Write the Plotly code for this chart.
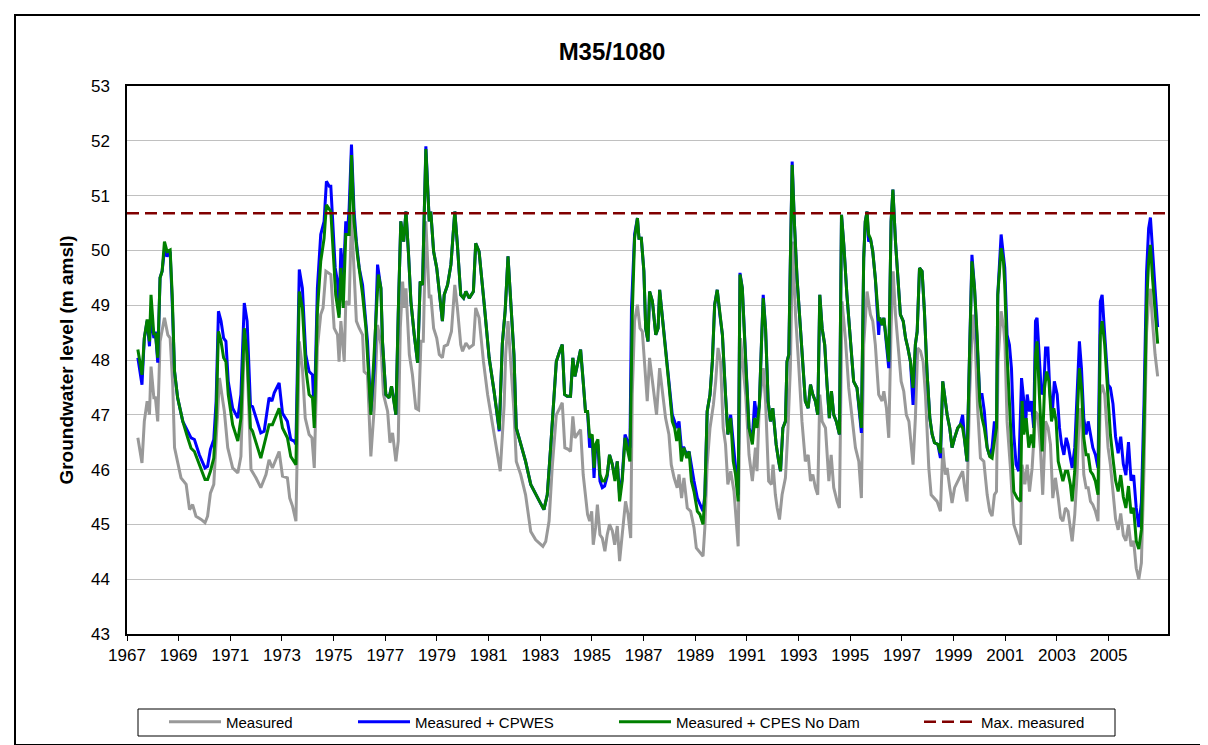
import plotly.graph_objects as go

# ---------------- data ----------------
measured_year = [
 1967.42,1967.58,1967.67,1967.78,1967.87,1967.93,1968.04,1968.10,1968.19,1968.28,1968.45,1968.58,1968.67,1968.77,1968.84,1968.96,
 1969.09,1969.29,1969.42,1969.54,1969.67,1969.87,1970.02,1970.12,1970.23,1970.36,1970.45,1970.58,1970.71,1970.77,1970.90,1971.09,
 1971.29,1971.41,1971.54,1971.65,1971.80,1971.99,1972.18,1972.38,1972.50,1972.63,1972.89,1973.02,1973.21,1973.30,1973.41,1973.54,
 1973.67,1973.79,1973.90,1974.05,1974.16,1974.25,1974.37,1974.50,1974.59,1974.70,1974.89,1975.02,1975.15,1975.21,1975.28,1975.41,
 1975.47,1975.60,1975.69,1975.79,1975.88,1975.99,1976.12,1976.18,1976.31,1976.44,1976.57,1976.70,1976.83,1976.93,1977.09,1977.18,
 1977.28,1977.41,1977.50,1977.58,1977.67,1977.73,1977.80,1977.93,1978.05,1978.18,1978.29,1978.38,1978.47,1978.57,1978.70,1978.76,
 1978.87,1978.99,1979.09,1979.21,1979.28,1979.41,1979.56,1979.69,1979.79,1979.92,1979.99,1980.12,1980.25,1980.41,1980.50,1980.63,
 1980.80,1980.96,1981.15,1981.28,1981.45,1981.60,1981.66,1981.75,1981.85,1981.98,1982.07,1982.24,1982.43,1982.63,1982.82,1982.97,
 1983.10,1983.21,1983.34,1983.46,1983.62,1983.75,1983.85,1983.95,1984.08,1984.17,1984.26,1984.34,1984.43,1984.56,1984.66,1984.75,
 1984.83,1984.91,1984.99,1985.05,1985.14,1985.21,1985.31,1985.40,1985.50,1985.59,1985.68,1985.79,1985.88,1985.98,1986.07,1986.17,
 1986.30,1986.40,1986.50,1986.56,1986.65,1986.76,1986.86,1986.95,1987.04,1987.14,1987.23,1987.34,1987.50,1987.62,1987.72,1987.85,
 1987.98,1988.07,1988.18,1988.30,1988.37,1988.47,1988.56,1988.69,1988.82,1988.95,1989.04,1989.14,1989.30,1989.37,1989.46,1989.57,
 1989.70,1989.79,1989.88,1989.98,1990.08,1990.17,1990.26,1990.37,1990.50,1990.66,1990.75,1990.95,1991.08,1991.21,1991.33,1991.39,
 1991.48,1991.63,1991.72,1991.84,1991.95,1992.01,1992.10,1992.17,1992.26,1992.36,1992.49,1992.59,1992.68,1992.77,1992.88,1993.01,
 1993.13,1993.26,1993.37,1993.46,1993.55,1993.65,1993.74,1993.82,1993.91,1994.04,1994.17,1994.26,1994.36,1994.49,1994.58,1994.68,
 1994.81,1994.94,1995.07,1995.20,1995.33,1995.43,1995.52,1995.65,1995.78,1995.87,1995.97,1996.10,1996.23,1996.30,1996.40,1996.49,
 1996.58,1996.66,1996.75,1996.84,1996.97,1997.07,1997.17,1997.27,1997.36,1997.43,1997.52,1997.61,1997.72,1997.82,1997.91,1998.04,
 1998.13,1998.23,1998.36,1998.49,1998.58,1998.68,1998.75,1998.85,1998.94,1999.04,1999.16,1999.26,1999.35,1999.43,1999.52,1999.62,
 1999.74,1999.84,1999.93,2000.04,2000.17,2000.30,2000.40,2000.49,2000.58,2000.66,2000.72,2000.84,2000.94,2000.99,2001.07,2001.20,
 2001.33,2001.46,2001.59,2001.65,2001.76,2001.85,2001.94,2002.04,2002.17,2002.26,2002.36,2002.45,2002.56,2002.66,2002.75,2002.84,
 2002.94,2003.05,2003.14,2003.23,2003.33,2003.43,2003.52,2003.59,2003.69,2003.78,2003.87,2003.95,2004.04,2004.13,2004.21,2004.30,
 2004.39,2004.49,2004.59,2004.68,2004.75,2004.85,2004.98,2005.07,2005.17,2005.27,2005.37,2005.47,2005.57,2005.67,2005.77,2005.87,
 2005.97,2006.07,2006.17,2006.27,2006.37,2006.47,2006.55,2006.62,2006.70,2006.80,2006.90]
measured_level = [
 46.58,46.12,46.88,47.25,47.00,47.88,47.31,47.31,46.88,48.34,48.77,48.46,48.40,47.55,46.40,46.15,
 45.85,45.73,45.27,45.36,45.15,45.09,45.03,45.15,45.57,45.73,46.64,47.67,47.25,47.06,46.40,46.03,
 45.94,46.24,48.34,47.97,46.00,45.85,45.67,45.91,46.18,46.03,46.33,45.88,45.85,45.48,45.33,45.06,
 48.34,47.85,46.94,46.64,46.58,46.03,48.22,48.83,48.95,49.62,49.56,48.58,48.46,47.97,48.71,47.97,
 49.07,49.01,50.65,49.56,48.71,48.58,48.46,47.79,47.73,46.24,47.12,48.64,48.28,47.37,47.06,46.49,
 46.67,46.15,46.52,48.58,49.43,48.95,49.31,48.10,47.73,47.12,47.09,48.34,48.34,50.53,49.13,49.19,
 48.58,48.40,48.10,48.04,48.25,48.28,48.52,49.37,48.95,48.28,48.16,48.31,48.22,48.28,48.95,48.77,
 47.97,47.37,46.82,46.40,45.97,47.18,48.10,48.71,47.97,47.06,46.15,45.91,45.54,44.87,44.72,44.66,
 44.60,44.69,45.06,46.03,47.00,47.12,47.22,46.40,46.37,46.33,46.97,46.58,46.64,46.73,45.91,45.54,
 45.18,45.06,45.24,44.63,44.94,45.36,44.81,44.75,44.51,44.81,45.00,44.88,44.63,44.97,44.33,44.81,
 45.42,45.18,44.75,47.37,48.71,49.01,48.58,48.52,47.97,47.25,48.04,47.61,47.00,47.85,47.49,46.94,
 46.64,46.09,45.85,45.67,45.91,45.48,45.85,45.30,45.24,44.94,44.57,44.51,44.42,44.94,46.09,46.76,
 47.18,47.61,48.22,47.97,46.76,46.46,45.73,45.97,45.60,44.60,48.40,47.37,46.27,45.79,46.40,45.97,
 47.18,47.85,47.25,45.79,45.73,46.09,45.54,45.30,45.09,45.54,45.85,46.76,47.85,50.16,48.83,47.85,
 46.88,46.15,46.27,45.79,45.91,45.67,45.54,47.37,46.88,46.76,45.79,46.27,45.67,45.42,45.30,49.07,
 48.40,47.49,46.88,46.40,46.15,45.48,48.28,49.25,48.83,48.71,48.28,47.37,47.25,47.43,47.12,46.58,
 48.58,49.62,48.83,48.28,47.61,47.43,47.00,46.88,46.46,46.09,46.94,48.22,48.16,47.97,47.37,46.03,
 45.54,45.48,45.42,45.24,46.40,45.91,46.03,45.67,45.39,45.67,45.79,45.91,45.97,45.67,45.42,47.37,
 48.83,48.28,47.12,46.21,46.15,45.54,45.24,45.15,45.54,45.60,47.97,48.89,48.58,48.28,46.88,46.03,
 45.00,44.81,44.63,46.09,45.73,46.09,45.60,46.03,47.06,47.00,46.40,45.54,46.88,46.76,46.46,45.48,
 45.85,45.48,45.12,45.06,45.30,45.24,44.94,44.69,45.18,45.91,47.12,46.94,45.91,45.67,45.67,45.42,
 45.36,45.24,45.06,47.37,47.55,47.37,46.40,46.09,45.60,45.10,44.90,45.20,44.80,44.70,45.00,44.60,
 44.70,44.20,44.00,44.30,46.00,48.50,49.10,49.30,48.70,48.10,47.70]

cpwes_year = [
 1967.42,1967.58,1967.67,1967.78,1967.87,1967.93,1968.04,1968.10,1968.19,1968.28,1968.36,1968.45,1968.55,1968.67,1968.75,1968.84,
 1968.96,1969.16,1969.35,1969.48,1969.61,1969.80,1970.02,1970.12,1970.23,1970.36,1970.45,1970.54,1970.64,1970.74,1970.83,1970.92,
 1971.09,1971.29,1971.41,1971.54,1971.65,1971.78,1971.86,1971.99,1972.18,1972.31,1972.50,1972.61,1972.70,1972.89,1973.02,1973.21,
 1973.34,1973.47,1973.54,1973.67,1973.79,1973.92,1974.05,1974.18,1974.25,1974.37,1974.50,1974.63,1974.72,1974.83,1974.89,1974.95,
 1975.06,1975.15,1975.21,1975.28,1975.37,1975.47,1975.53,1975.60,1975.69,1975.79,1975.88,1975.99,1976.12,1976.22,1976.31,1976.44,
 1976.57,1976.70,1976.83,1976.89,1977.02,1977.15,1977.24,1977.32,1977.41,1977.50,1977.60,1977.71,1977.80,1977.90,1977.99,1978.12,
 1978.25,1978.35,1978.44,1978.57,1978.70,1978.76,1978.87,1978.99,1979.09,1979.21,1979.28,1979.41,1979.54,1979.69,1979.79,1979.92,
 1980.03,1980.12,1980.25,1980.41,1980.50,1980.63,1980.83,1981.02,1981.21,1981.41,1981.53,1981.64,1981.75,1981.85,1981.98,1982.07,
 1982.24,1982.43,1982.63,1982.82,1982.97,1983.14,1983.27,1983.40,1983.53,1983.62,1983.75,1983.85,1983.94,1984.04,1984.17,1984.26,
 1984.34,1984.43,1984.56,1984.66,1984.75,1984.83,1984.91,1985.01,1985.08,1985.14,1985.23,1985.31,1985.40,1985.49,1985.59,1985.68,
 1985.79,1985.89,1985.98,1986.07,1986.17,1986.28,1986.37,1986.47,1986.53,1986.65,1986.76,1986.82,1986.91,1987.01,1987.08,1987.17,
 1987.23,1987.34,1987.47,1987.56,1987.62,1987.72,1987.85,1987.98,1988.11,1988.20,1988.28,1988.37,1988.46,1988.56,1988.67,1988.76,
 1988.85,1988.95,1989.08,1989.18,1989.30,1989.37,1989.46,1989.57,1989.66,1989.75,1989.85,1989.95,1990.05,1990.17,1990.26,1990.37,
 1990.47,1990.56,1990.66,1990.73,1990.82,1990.95,1991.08,1991.21,1991.30,1991.39,1991.48,1991.56,1991.63,1991.72,1991.82,1991.91,
 1992.00,1992.06,1992.13,1992.23,1992.30,1992.39,1992.49,1992.55,1992.62,1992.68,1992.75,1992.84,1992.94,1993.07,1993.16,1993.26,
 1993.37,1993.46,1993.55,1993.65,1993.74,1993.82,1993.91,1994.01,1994.10,1994.19,1994.27,1994.36,1994.46,1994.58,1994.66,1994.75,
 1994.87,1995.00,1995.13,1995.26,1995.35,1995.43,1995.52,1995.58,1995.65,1995.71,1995.78,1995.87,1995.97,1996.10,1996.14,1996.23,
 1996.30,1996.40,1996.49,1996.58,1996.65,1996.75,1996.84,1996.94,1997.05,1997.14,1997.23,1997.33,1997.43,1997.52,1997.59,1997.68,
 1997.78,1997.87,1997.97,1998.08,1998.17,1998.26,1998.39,1998.49,1998.58,1998.68,1998.75,1998.85,1998.94,1999.04,1999.16,1999.26,
 1999.35,1999.43,1999.52,1999.61,1999.71,1999.81,1999.91,2000.01,2000.10,2000.19,2000.30,2000.40,2000.49,2000.58,2000.66,2000.71,
 2000.84,2000.93,2000.98,2001.07,2001.16,2001.24,2001.33,2001.42,2001.52,2001.63,2001.72,2001.78,2001.85,2001.94,2002.01,2002.10,
 2002.17,2002.23,2002.32,2002.40,2002.49,2002.56,2002.65,2002.72,2002.81,2002.90,2003.01,2003.10,2003.18,2003.27,2003.36,2003.43,
 2003.52,2003.59,2003.69,2003.78,2003.87,2003.95,2004.04,2004.13,2004.21,2004.30,2004.39,2004.49,2004.59,2004.68,2004.75,2004.85,
 2004.98,2005.07,2005.17,2005.27,2005.37,2005.47,2005.57,2005.67,2005.77,2005.87,2005.97,2006.07,2006.17,2006.27,2006.37,2006.47,
 2006.55,2006.62,2006.70,2006.80,2006.90]
cpwes_level = [
 48.04,47.55,48.40,48.71,48.25,48.83,48.40,48.52,47.95,49.50,49.62,50.01,49.89,49.98,49.07,47.79,
 47.31,46.88,46.70,46.58,46.55,46.27,46.03,46.06,46.37,46.55,47.25,48.89,48.71,48.40,48.34,47.61,
 47.12,46.94,47.37,49.04,48.71,47.18,47.15,46.94,46.67,46.70,47.31,47.25,47.40,47.58,47.03,46.88,
 46.55,46.52,46.46,49.65,49.31,48.10,47.79,47.73,47.00,49.31,50.29,50.53,51.26,51.17,51.17,50.65,
 49.68,49.43,48.83,50.04,49.43,50.53,50.29,50.77,51.93,50.71,50.16,49.68,49.37,48.83,48.34,47.06,
 47.85,49.74,49.31,48.34,47.37,47.31,47.52,47.31,47.00,48.83,50.53,50.16,50.71,49.92,49.07,48.46,
 47.95,49.43,49.37,51.90,50.53,50.71,49.98,49.68,49.19,48.71,49.19,49.37,49.74,50.71,50.10,49.19,
 49.13,49.25,49.13,49.25,50.13,49.98,49.01,48.04,47.43,46.70,48.30,48.90,49.89,49.01,48.10,46.76,
 46.46,46.15,45.73,45.57,45.42,45.27,45.54,46.40,47.25,47.97,48.16,48.28,47.37,47.34,47.34,48.04,
 47.70,47.91,48.19,47.61,47.06,47.06,46.40,46.58,45.85,46.40,46.46,45.79,45.67,45.70,45.88,46.27,
 46.09,45.85,46.15,45.54,45.85,46.64,46.52,46.40,48.95,50.29,50.59,50.22,50.22,49.62,48.58,48.34,
 49.25,49.07,48.46,48.58,49.28,48.83,48.22,47.55,47.00,46.88,46.76,46.88,46.40,46.40,46.27,46.33,
 46.03,45.79,45.48,45.36,45.24,45.54,47.06,47.37,47.97,49.01,49.28,48.83,48.46,47.37,46.64,47.00,
 46.40,46.03,45.54,49.59,49.31,47.97,46.76,46.58,47.25,46.94,47.18,48.28,49.19,48.58,47.25,46.88,
 47.12,46.82,46.46,46.15,45.97,46.76,46.88,47.97,48.10,49.80,51.62,50.47,49.49,48.58,47.97,47.25,
 47.12,47.55,47.37,47.25,47.00,49.19,48.58,48.28,47.55,46.94,47.43,47.00,46.88,46.64,50.65,50.10,
 49.19,48.46,47.61,47.49,47.06,46.67,49.86,50.53,50.71,50.16,50.22,49.98,49.49,48.46,48.77,48.64,
 48.77,48.34,47.85,50.53,51.11,50.16,49.49,48.83,48.71,48.40,48.22,47.97,47.18,48.28,48.52,49.68,
 49.62,48.89,47.79,46.94,46.64,46.49,46.46,46.21,47.61,47.18,47.00,46.76,46.40,46.58,46.76,46.82,
 47.00,46.52,46.15,47.97,49.92,49.31,48.46,47.37,47.37,47.06,46.40,46.24,46.40,46.88,46.76,49.19,
 50.29,49.90,49.68,48.46,48.28,47.85,46.64,46.09,45.97,47.67,47.25,46.76,47.37,47.06,47.25,46.76,
 48.71,48.77,47.97,47.37,47.49,48.22,48.22,47.49,46.94,47.61,47.37,46.76,46.46,46.27,46.58,46.46,
 46.21,46.03,46.40,47.25,48.34,47.85,46.94,46.64,46.88,46.64,46.40,46.27,46.03,49.07,49.19,48.46,
 47.55,47.49,47.20,46.60,46.30,46.60,46.10,45.90,46.50,45.80,45.90,45.30,44.95,45.40,47.20,49.60,
 50.40,50.60,50.10,49.30,48.60]

cpes_year = [
 1967.42,1967.58,1967.67,1967.78,1967.87,1967.93,1968.04,1968.10,1968.19,1968.28,1968.36,1968.45,1968.55,1968.67,1968.75,1968.84,
 1968.96,1969.16,1969.35,1969.48,1969.61,1969.80,1970.02,1970.12,1970.23,1970.36,1970.45,1970.54,1970.64,1970.74,1970.83,1970.92,
 1971.09,1971.29,1971.41,1971.54,1971.65,1971.78,1971.86,1972.18,1972.50,1972.63,1972.89,1973.02,1973.21,1973.34,1973.54,1973.67,
 1973.79,1973.92,1974.05,1974.18,1974.25,1974.37,1974.50,1974.63,1974.72,1974.89,1974.95,1975.08,1975.21,1975.28,1975.37,1975.47,
 1975.60,1975.69,1975.79,1975.92,1976.12,1976.25,1976.44,1976.57,1976.73,1976.83,1976.89,1977.02,1977.15,1977.24,1977.32,1977.41,
 1977.50,1977.60,1977.71,1977.80,1977.90,1977.99,1978.12,1978.25,1978.35,1978.44,1978.57,1978.70,1978.76,1978.87,1978.99,1979.09,
 1979.21,1979.28,1979.41,1979.54,1979.69,1979.79,1979.92,1980.03,1980.12,1980.25,1980.41,1980.50,1980.63,1980.83,1981.02,1981.21,
 1981.41,1981.53,1981.64,1981.75,1981.85,1981.98,1982.07,1982.24,1982.43,1982.63,1982.82,1982.97,1983.14,1983.27,1983.40,1983.53,
 1983.62,1983.75,1983.85,1983.94,1984.04,1984.17,1984.26,1984.34,1984.43,1984.56,1984.66,1984.75,1984.83,1984.91,1985.01,1985.08,
 1985.14,1985.23,1985.31,1985.40,1985.49,1985.59,1985.68,1985.79,1985.89,1985.98,1986.07,1986.17,1986.28,1986.37,1986.47,1986.56,
 1986.65,1986.76,1986.82,1986.91,1987.01,1987.08,1987.17,1987.23,1987.34,1987.47,1987.56,1987.62,1987.72,1987.85,1987.98,1988.11,
 1988.20,1988.28,1988.37,1988.46,1988.56,1988.67,1988.76,1988.85,1988.95,1989.08,1989.18,1989.30,1989.37,1989.46,1989.57,1989.66,
 1989.75,1989.85,1989.95,1990.05,1990.17,1990.26,1990.37,1990.47,1990.56,1990.66,1990.73,1990.82,1990.95,1991.08,1991.21,1991.30,
 1991.39,1991.48,1991.56,1991.63,1991.72,1991.82,1991.91,1992.00,1992.06,1992.13,1992.23,1992.30,1992.39,1992.49,1992.55,1992.62,
 1992.68,1992.75,1992.84,1992.94,1993.07,1993.16,1993.26,1993.37,1993.46,1993.55,1993.65,1993.74,1993.82,1993.91,1994.01,1994.10,
 1994.19,1994.27,1994.36,1994.46,1994.58,1994.66,1994.75,1994.87,1995.00,1995.13,1995.26,1995.35,1995.43,1995.52,1995.58,1995.65,
 1995.71,1995.78,1995.87,1995.97,1996.10,1996.14,1996.23,1996.30,1996.40,1996.49,1996.58,1996.65,1996.75,1996.84,1996.94,1997.05,
 1997.14,1997.23,1997.33,1997.43,1997.52,1997.59,1997.68,1997.78,1997.87,1997.97,1998.08,1998.17,1998.26,1998.39,1998.49,1998.58,
 1998.68,1998.75,1998.85,1998.94,1999.04,1999.16,1999.26,1999.35,1999.43,1999.52,1999.61,1999.71,1999.81,1999.91,2000.01,2000.10,
 2000.19,2000.30,2000.40,2000.49,2000.58,2000.66,2000.71,2000.84,2000.93,2000.98,2001.07,2001.20,2001.33,2001.46,2001.59,2001.65,
 2001.72,2001.81,2001.91,2002.01,2002.10,2002.17,2002.23,2002.32,2002.43,2002.52,2002.60,2002.69,2002.79,2002.88,2002.97,2003.05,
 2003.14,2003.23,2003.33,2003.42,2003.52,2003.59,2003.69,2003.78,2003.87,2003.95,2004.04,2004.13,2004.21,2004.30,2004.39,2004.49,
 2004.59,2004.68,2004.75,2004.85,2004.98,2005.07,2005.17,2005.27,2005.37,2005.47,2005.57,2005.67,2005.77,2005.87,2005.97,2006.07,
 2006.17,2006.27,2006.37,2006.47,2006.55,2006.62,2006.70,2006.80,2006.90]
cpes_level = [
 48.19,47.73,48.40,48.74,48.34,49.19,48.46,48.49,48.04,49.50,49.62,50.16,49.98,50.01,49.19,47.79,
 47.31,46.88,46.58,46.39,46.33,46.09,45.82,45.82,45.97,46.21,46.94,48.52,48.34,48.04,47.97,47.37,
 46.82,46.52,46.94,48.58,48.10,46.76,46.70,46.21,46.82,46.82,47.12,46.76,46.58,46.24,46.09,49.25,
 48.95,47.85,47.37,47.31,46.76,48.89,49.80,50.22,50.83,50.71,50.29,49.19,48.77,49.68,48.95,50.29,
 50.29,51.74,50.53,49.92,49.19,48.58,47.00,48.10,49.56,49.31,48.34,47.37,47.31,47.52,47.31,47.00,
 48.83,50.53,50.16,50.71,49.92,49.07,48.46,47.95,49.43,49.37,51.85,50.53,50.71,49.98,49.68,49.19,
 48.71,49.19,49.37,49.74,50.71,50.10,49.19,49.13,49.25,49.13,49.25,50.13,49.98,49.01,48.04,47.43,
 46.73,48.30,48.90,49.89,49.01,48.10,46.76,46.46,46.15,45.73,45.57,45.42,45.27,45.54,46.40,47.25,
 47.97,48.16,48.28,47.37,47.34,47.34,48.04,47.70,47.91,48.19,47.61,47.06,47.06,46.58,46.64,46.03,
 46.46,46.55,45.91,45.79,45.79,45.91,46.27,46.09,45.79,46.15,45.42,45.79,46.58,46.40,46.15,48.83,
 50.22,50.59,50.22,50.22,49.62,48.58,48.34,49.25,49.07,48.46,48.58,49.28,48.83,48.22,47.55,46.88,
 46.76,46.52,46.76,46.15,46.40,46.21,46.33,45.79,45.60,45.24,45.18,45.00,45.54,47.06,47.37,47.97,
 49.01,49.28,48.83,48.46,47.37,46.64,46.94,46.15,45.91,45.42,49.56,49.31,47.97,46.76,46.46,46.94,
 46.76,47.18,48.28,49.13,48.58,47.25,46.88,47.12,46.82,46.46,46.15,45.97,46.76,46.88,47.97,48.10,
 49.80,51.56,50.47,49.49,48.58,47.97,47.25,47.12,47.55,47.37,47.25,47.00,49.19,48.58,48.28,47.55,
 46.94,47.43,47.00,46.88,46.64,50.65,50.10,49.19,48.46,47.61,47.49,47.06,46.76,49.86,50.53,50.71,
 50.29,50.22,49.98,49.49,48.71,48.77,48.64,48.77,48.34,47.97,50.53,51.11,50.16,49.49,48.83,48.71,
 48.40,48.22,47.97,47.49,48.28,48.52,49.68,49.62,48.89,47.79,46.94,46.64,46.49,46.46,46.30,47.61,
 47.18,47.00,46.76,46.40,46.58,46.76,46.82,46.76,46.52,46.15,47.97,49.80,49.31,48.46,47.25,46.94,
 46.76,46.40,46.24,46.21,46.52,46.76,49.19,50.04,49.80,49.37,48.10,46.76,45.60,45.48,45.42,47.25,
 46.64,46.94,46.40,46.64,46.40,48.10,48.34,47.37,46.33,47.49,47.79,47.61,46.88,47.12,46.88,46.15,
 45.97,45.79,45.97,45.97,45.73,45.42,45.97,46.88,47.85,47.49,46.58,46.27,46.27,45.97,45.91,45.79,
 45.54,48.46,48.71,48.28,47.37,46.64,46.20,45.80,45.60,45.90,45.50,45.30,45.70,45.20,45.30,44.70,
 44.55,44.90,46.70,49.00,49.80,50.10,49.50,48.80,48.30]

max_measured = 50.68
series_names = ["Measured", "Measured + CPWES", "Measured + CPES No Dam", "Max. measured"]
year_ticks = list(range(1967, 2006, 2))
level_ticks = list(range(43, 54))

for a, b in [(measured_year, measured_level), (cpwes_year, cpwes_level), (cpes_year, cpes_level)]:
    assert len(a) == len(b), (len(a), len(b))

# ---------------- layout geometry (pixels) ----------------
W, H = 1208, 745
PL, PR, PT, PB = 119, 1160, 78, 626
XMIN, XMAX = 1967, 2007.3
YMIN, YMAX = 43, 53

def px_x(p):
    return (p - PL) / (PR - PL)

def px_y(p):
    return (PB - p) / (PB - PT)

FONT = "Liberation Sans, Arial, sans-serif"
ITEMW = 52

fig = go.Figure()
fig.add_trace(go.Scatter(x=measured_year, y=measured_level, mode="lines", name=series_names[0],
                         line=dict(color="#999999", width=3), legend="legend"))
fig.add_trace(go.Scatter(x=cpwes_year, y=cpwes_level, mode="lines", name=series_names[1],
                         line=dict(color="#0000ff", width=3), legend="legend2"))
fig.add_trace(go.Scatter(x=cpes_year, y=cpes_level, mode="lines", name=series_names[2],
                         line=dict(color="#008000", width=3), legend="legend3"))
fig.add_trace(go.Scatter(x=[XMIN, XMAX], y=[max_measured, max_measured], mode="lines", name=series_names[3],
                         line=dict(color="#800000", width=2.5, dash="12px,6px"), legend="legend4"))

leg_common = dict(orientation="h", yanchor="middle", y=px_y(714), xanchor="left",
                  bgcolor="rgba(0,0,0,0)", borderwidth=0, itemwidth=ITEMW,
                  font=dict(family=FONT, size=15, color="black"))
leg_text_starts = [218, 407, 668, 973]
legends = {}
for i, key in enumerate(["legend", "legend2", "legend3", "legend4"]):
    legends[key] = dict(leg_common, x=px_x(leg_text_starts[i] - ITEMW - 10))

fig.update_layout(
    width=W, height=H,
    margin=dict(l=PL, r=W - PR, t=PT, b=H - PB, pad=0),
    paper_bgcolor="white", plot_bgcolor="white",
    font=dict(family=FONT, size=17, color="black"),
    title=dict(text="<b>M35/1080</b>", x=0.5, xref="container", xanchor="center",
               y=1 - 44 / H, yref="container", yanchor="middle",
               font=dict(family=FONT, size=24, color="black")),
    showlegend=True,
    **legends,
    xaxis=dict(range=[XMIN, XMAX], tickmode="array", tickvals=year_ticks,
               ticktext=[str(t) for t in year_ticks],
               showgrid=False, zeroline=False, showline=True, linecolor="black", linewidth=1.5,
               mirror=True, ticks="outside", ticklen=5, tickwidth=1, tickcolor="black",
               tickfont=dict(family=FONT, size=17, color="black")),
    yaxis=dict(range=[YMIN, YMAX], tickmode="array", tickvals=level_ticks,
               showgrid=True, gridcolor="#c0c0c0", gridwidth=1, zeroline=False,
               showline=True, linecolor="black", linewidth=1.5, mirror=True, ticks="",
               ticklabelstandoff=12,
               tickfont=dict(family=FONT, size=17, color="black"),
               title=dict(text="<b>Groundwater level (m amsl)</b>", standoff=12,
                          font=dict(family=FONT, size=19, color="black"))),
    shapes=[
        dict(type="rect", xref="paper", yref="paper", x0=px_x(7), x1=px_x(1200), y0=px_y(737), y1=px_y(7),
             line=dict(color="black", width=2), fillcolor="rgba(0,0,0,0)", layer="below"),
        dict(type="rect", xref="paper", yref="paper", x0=px_x(130), x1=px_x(1107), y0=px_y(728), y1=px_y(701),
             line=dict(color="black", width=1), fillcolor="rgba(0,0,0,0)"),
    ],
)

fig.write_html("out.html")
